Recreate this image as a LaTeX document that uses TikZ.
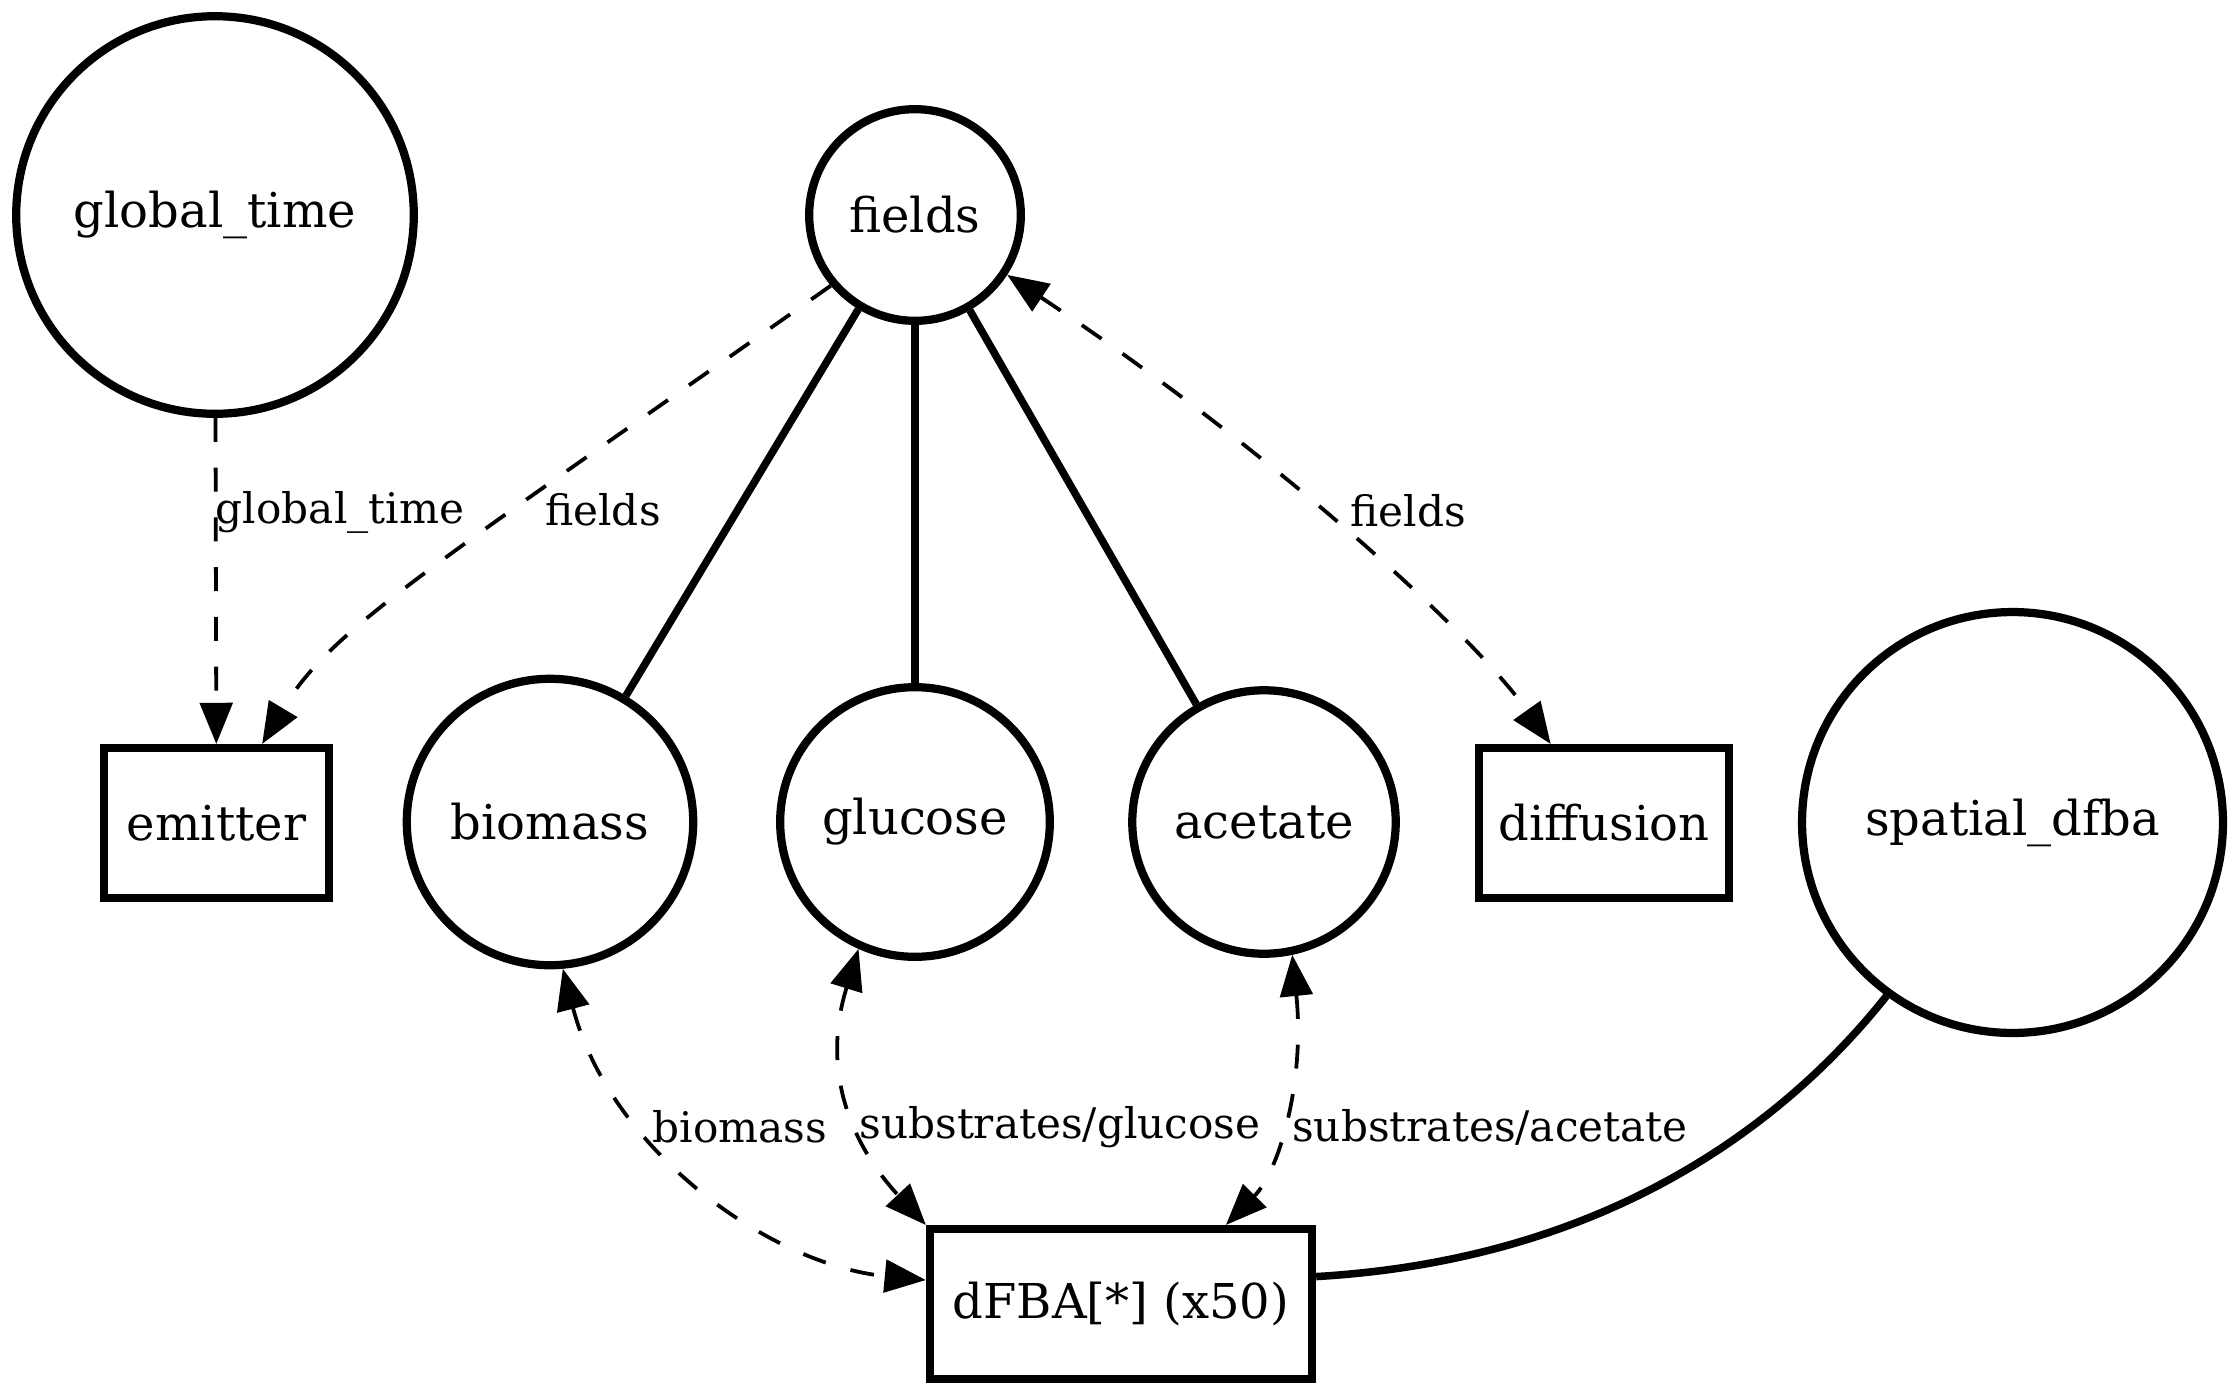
\documentclass[tikz,border=0pt]{standalone}
\usepackage{fontspec}
\setmainfont{DejaVu Serif}
\usepackage{tikz}
\usetikzlibrary{arrows.meta}
\tikzset{
  vs/.style={circle, draw=black, line width=2.4pt, inner sep=0pt, text centered, font=\fontsize{14pt}{17pt}\selectfont},
  pb/.style={rectangle, draw=black, line width=2.4pt, inner sep=0pt, minimum height=43.7pt, text centered, font=\fontsize{14pt}{17pt}\selectfont},
  lb/.style={inner sep=0pt, font=\fontsize{12.3pt}{14pt}\selectfont},
  ln/.style={line width=2.2pt},
  wr/.style={line width=1.1pt, dash pattern=on 7pt off 7.5pt},
  >={Triangle[length=12pt,width=9.5pt]}
}

\begin{document}
\begin{tikzpicture}[x=0.2915pt, y=-0.2915pt]
	\useasboundingbox (0,0) rectangle (2240,1396);
	\node[vs, minimum size=115.9pt] (gtime) at (215,215) {global\_time};
	\node[vs, minimum size=61.7pt] (fields) at (915,215) {fields};
	\node[pb, minimum width=65.6pt] (emitter) at (216.5,823) {emitter};
	\node[vs, minimum size=83.5pt] (biomass) at (550,822) {biomass};
	\node[vs, minimum size=78.6pt] (glucose) at (915,822) {glucose};
	\node[vs, minimum size=76.8pt] (acetate) at (1264,822) {acetate};
	\node[pb, minimum width=72.9pt] (diffusion) at (1604,823) {diffusion};
	\node[vs, minimum size=122.7pt] (sdfba) at (2012.5,822.5) {spatial\_dfba};
	\node[pb, minimum width=111.4pt] (dfba) at (1121,1304) {dFBA[*] (x50)};
	%
	\draw[wr,->] (gtime) -- (emitter);
	\draw[wr,->] (fields.220) .. controls (420,575) and (330,630) .. (emitter.60);
	\draw[ln] (fields) -- (biomass);
	\draw[ln] (fields) -- (glucose);
	\draw[ln] (fields) -- (acetate);
	\draw[wr,<->] (fields.-33) .. controls (1270,450) and (1470,630) .. (diffusion.124);
	\draw[wr,<->] (biomass.-85) .. controls (610,1150) and (770,1265) .. (dfba.173);
	\draw[wr,<->] (glucose.246) .. controls (815,1090) and (870,1165) .. (dfba.north west);
	\draw[wr,<->] (acetate.-78) .. controls (1305,1080) and (1280,1170) .. (dfba.37);
	\draw[ln] (sdfba.234) .. controls (1780,1130) and (1600,1260) .. (dfba.8);
	%
	\node[lb] (lgtime) at (340,512) {global\_time};
	\node[lb] (lfieldsa) at (603,510) {fields};
	\node[lb] (lfieldsb) at (1408,511) {fields};
	\node[lb] (lbiomass) at (740,1127) {biomass};
	\node[lb] (lglucose) at (1060,1127) {substrates/glucose};
	\node[lb] (lacetate) at (1490,1127) {substrates/acetate};
\end{tikzpicture}
\end{document}
